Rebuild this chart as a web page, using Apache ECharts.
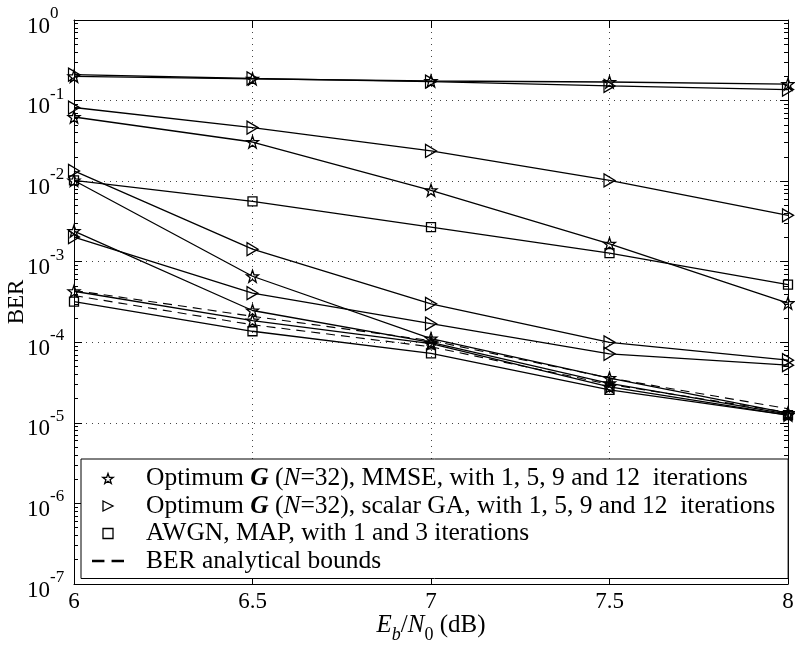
<!DOCTYPE html>
<html>
<head>
<meta charset="utf-8">
<script src="https://cdn.jsdelivr.net/npm/echarts@6/dist/echarts.min.js"></script>
<style>
  html, body { margin: 0; padding: 0; background: #fff; }
  #chart { width: 795px; height: 649px; }
</style>
</head>
<body>
<div id="chart"></div>
<script>
// Eb/N0 points (dB)
const ebn0 = [6, 6.5, 7, 7.5, 8];

// Optimum G (N=32), MMSE detector (star markers)
const mmseCurve1 = [0.200, 0.186, 0.175, 0.170, 0.160];
const mmseCurve2 = [0.0625, 0.0306, 0.0077, 0.00167, 0.000306];
const mmseCurve3 = [0.0102, 0.00066, 0.000111, 0.000036, 0.0000132];
const mmseCurve4 = [0.0024, 0.000248, 0.000100, 0.000031, 0.0000128];
const mmseCurve5 = [0.00043, 0.000186, 0.000096, 0.000028, 0.0000125];

// Optimum G (N=32), scalar GA (right-pointing triangles)
const gaCurve1 = [0.210, 0.188, 0.172, 0.152, 0.137];
const gaCurve2 = [0.082, 0.0462, 0.0237, 0.0102, 0.00376];
const gaCurve3 = [0.0134, 0.00143, 0.000300, 0.000100, 0.000060];
const gaCurve4 = [0.00202, 0.000407, 0.000170, 0.000072, 0.000052];

// AWGN, MAP decoding (squares)
const awgnIter1 = [0.0102, 0.0056, 0.00269, 0.00128, 0.00052];
const awgnIter3 = [0.00032, 0.000137, 0.000073, 0.0000257, 0.0000125];

// Analytical BER bounds (dashed)
const boundUpper = [0.00044, 0.00021, 0.000105, 0.000036, 0.0000150];
const boundLower = [0.00038, 0.000165, 0.000088, 0.000030, 0.0000135];

// Axis ticks
const xTicks = ['6', '6.5', '7', '7.5', '8'];
const berDecades = [1e0, 1e-1, 1e-2, 1e-3, 1e-4, 1e-5, 1e-6, 1e-7];

const FONT = '"Liberation Serif", "DejaVu Serif", serif';

// five-pointed star outline (MATLAB-style pentagram)
function starPath() {
  const pts = [];
  for (let k = 0; k < 10; k++) {
    const a = -Math.PI / 2 + k * Math.PI / 5;
    const r = k % 2 === 0 ? 10 : 4;
    pts.push((r * Math.cos(a)).toFixed(3) + ',' + (r * Math.sin(a)).toFixed(3));
  }
  return 'path://M' + pts.join('L') + 'Z';
}
const STAR = starPath();
const TRI_RIGHT = 'path://M0,0L10,5L0,10Z';
const SQUARE = 'path://M0,0L10,0L10,10L0,10Z';
const DASHES = 'path://M0,4L7,4L7,5.4L0,5.4ZM11,4L18,4L18,5.4L11,5.4Z';

const NAME_MMSE = 'mmse';
const NAME_GA = 'ga';
const NAME_AWGN = 'awgn';
const NAME_BOUND = 'bound';

const minorTicks = [];
for (let e = -7; e < 0; e++) {
  for (let k = 2; k <= 9; k++) minorTicks.push(k * Math.pow(10, e));
}

function pairs(ys) { return ebn0.map((x, i) => [x, ys[i]]); }

const hollow = { color: 'rgba(0,0,0,0)', borderColor: '#000', borderWidth: 1.3 };

function markerSeries(name, ys, symbol, size) {
  return {
    type: 'line', name, data: pairs(ys),
    symbol, symbolSize: size, showAllSymbol: true,
    lineStyle: { color: '#000', width: 1.3 },
    itemStyle: hollow,
    emphasis: { disabled: true },
    animation: false, z: 3
  };
}
function boundSeries(ys) {
  return {
    type: 'line', name: NAME_BOUND, data: pairs(ys),
    symbol: 'none',
    lineStyle: { color: '#000', width: 1.1, type: [9, 6] },
    itemStyle: { color: '#000' },
    animation: false, z: 2
  };
}

const series = [
  markerSeries(NAME_MMSE, mmseCurve1, STAR, 12),
  markerSeries(NAME_MMSE, mmseCurve2, STAR, 12),
  markerSeries(NAME_MMSE, mmseCurve3, STAR, 12),
  markerSeries(NAME_MMSE, mmseCurve4, STAR, 12),
  markerSeries(NAME_MMSE, mmseCurve5, STAR, 12),
  markerSeries(NAME_GA, gaCurve1, TRI_RIGHT, [11, 13]),
  markerSeries(NAME_GA, gaCurve2, TRI_RIGHT, [11, 13]),
  markerSeries(NAME_GA, gaCurve3, TRI_RIGHT, [11, 13]),
  markerSeries(NAME_GA, gaCurve4, TRI_RIGHT, [11, 13]),
  markerSeries(NAME_AWGN, awgnIter1, SQUARE, 9),
  markerSeries(NAME_AWGN, awgnIter3, SQUARE, 9),
  boundSeries(boundUpper),
  boundSeries(boundLower)
];

const legendText = {};
legendText[NAME_MMSE] = 'Optimum {bi|G} ({it|N}=32), MMSE, with 1, 5, 9 and 12  iterations';
legendText[NAME_GA] = 'Optimum {bi|G} ({it|N}=32), scalar GA, with 1, 5, 9 and 12  iterations';
legendText[NAME_AWGN] = 'AWGN, MAP, with 1 and 3 iterations';
legendText[NAME_BOUND] = 'BER analytical bounds';

const gridLine = { show: true, lineStyle: { color: '#444', width: 1, type: [1, 5] } };
const frameLine = { show: true, onZero: false, lineStyle: { color: '#000', width: 1 } };
const LEG = 25.5;

const chart = echarts.init(document.getElementById('chart'), null, { renderer: 'canvas' });
chart.setOption({
  backgroundColor: '#fff',
  animation: false,
  grid: { left: 74, right: 7, top: 20, bottom: 65, containLabel: false, outerBoundsMode: 'none' },
  xAxis: [
    {
      type: 'value', min: 6, max: 8, interval: 0.5, position: 'bottom',
      axisLine: frameLine,
      axisTick: { show: true, inside: true, length: 8, lineStyle: { color: '#000' } },
      splitLine: gridLine,
      axisLabel: {
        color: '#000', fontFamily: FONT, fontSize: 23, margin: 6,
        formatter: (v) => xTicks[Math.round((v - 6) / 0.5)]
      },
      name: '{i|E}{sb|b}{n|/}{i|N}{s0|0}{n| (dB)}',
      nameLocation: 'middle', nameGap: 29, nameMoveOverlap: false,
      nameTextStyle: {
        color: '#000', fontFamily: FONT, fontSize: 25,
        rich: {
          i: { fontFamily: FONT, fontSize: 25, fontStyle: 'italic', lineHeight: 26, verticalAlign: 'top', color: '#000' },
          n: { fontFamily: FONT, fontSize: 25, lineHeight: 26, verticalAlign: 'top', color: '#000' },
          sb: { fontFamily: FONT, fontSize: 18, fontStyle: 'italic', lineHeight: 18, verticalAlign: 'top', padding: [13, 0, 0, 0], color: '#000' },
          s0: { fontFamily: FONT, fontSize: 18, lineHeight: 18, verticalAlign: 'top', padding: [13, 0, 0, 0], color: '#000' }
        }
      }
    },
    {
      type: 'value', min: 6, max: 8, interval: 0.5, position: 'top',
      axisLine: frameLine,
      axisTick: { show: true, inside: true, length: 8, lineStyle: { color: '#000' } },
      axisLabel: { show: false }, splitLine: { show: false }
    }
  ],
  yAxis: [
    {
      type: 'log', logBase: 10, min: 1e-7, max: 1, position: 'left',
      axisLine: frameLine,
      axisTick: { show: true, inside: true, length: 8, lineStyle: { color: '#000' } },
      splitLine: gridLine,
      axisLabel: {
        customValues: berDecades,
        align: 'left', margin: 47, padding: [0, 0, 6, 0],
        formatter: (v) => '{b|10}{s|' + Math.round(Math.log10(v)) + '}',
        rich: {
          b: { fontFamily: FONT, fontSize: 23, lineHeight: 24, verticalAlign: 'top', padding: [10, 0, 0, 0], color: '#000' },
          s: { fontFamily: FONT, fontSize: 17, lineHeight: 18, verticalAlign: 'top', color: '#000' }
        }
      },
      name: 'BER', nameLocation: 'middle', nameGap: 46, nameMoveOverlap: false,
      nameTextStyle: { color: '#000', fontFamily: FONT, fontSize: 23 }
    },
    {
      type: 'log', logBase: 10, min: 1e-7, max: 1, position: 'left',
      axisLine: { show: false },
      axisTick: { show: true, inside: true, length: 4, customValues: minorTicks, lineStyle: { color: '#000' } },
      axisLabel: { show: false }, splitLine: { show: false }
    },
    {
      type: 'log', logBase: 10, min: 1e-7, max: 1, position: 'right',
      axisLine: frameLine,
      axisTick: { show: true, inside: true, length: 8, lineStyle: { color: '#000' } },
      axisLabel: { show: false }, splitLine: { show: false }
    },
    {
      type: 'log', logBase: 10, min: 1e-7, max: 1, position: 'right',
      axisLine: { show: false },
      axisTick: { show: true, inside: true, length: 4, customValues: minorTicks, lineStyle: { color: '#000' } },
      axisLabel: { show: false }, splitLine: { show: false }
    }
  ],
  legend: {
    orient: 'vertical', left: 81, top: 459,
    padding: [6, 13, 4, 11],
    itemGap: 0.5, itemWidth: 32, itemHeight: 10,
    backgroundColor: '#fff', borderColor: '#000', borderWidth: 1,
    selectedMode: false, z: 10,
    data: [
      { name: NAME_MMSE, icon: STAR, itemStyle: hollow },
      { name: NAME_GA, icon: TRI_RIGHT, itemStyle: hollow },
      { name: NAME_AWGN, icon: SQUARE, itemStyle: hollow },
      { name: NAME_BOUND, icon: DASHES, itemStyle: { color: '#000', borderWidth: 0 } }
    ],
    formatter: (name) => legendText[name],
    textStyle: {
      color: '#000', fontFamily: FONT, fontSize: LEG, lineHeight: 27, padding: [0, 0, 0, 17],
      rich: {
        bi: { fontFamily: FONT, fontSize: LEG, lineHeight: 27, fontWeight: 'bold', fontStyle: 'italic', color: '#000' },
        it: { fontFamily: FONT, fontSize: LEG, lineHeight: 27, fontStyle: 'italic', color: '#000' }
      }
    }
  },
  series
});
</script>
</body>
</html>
